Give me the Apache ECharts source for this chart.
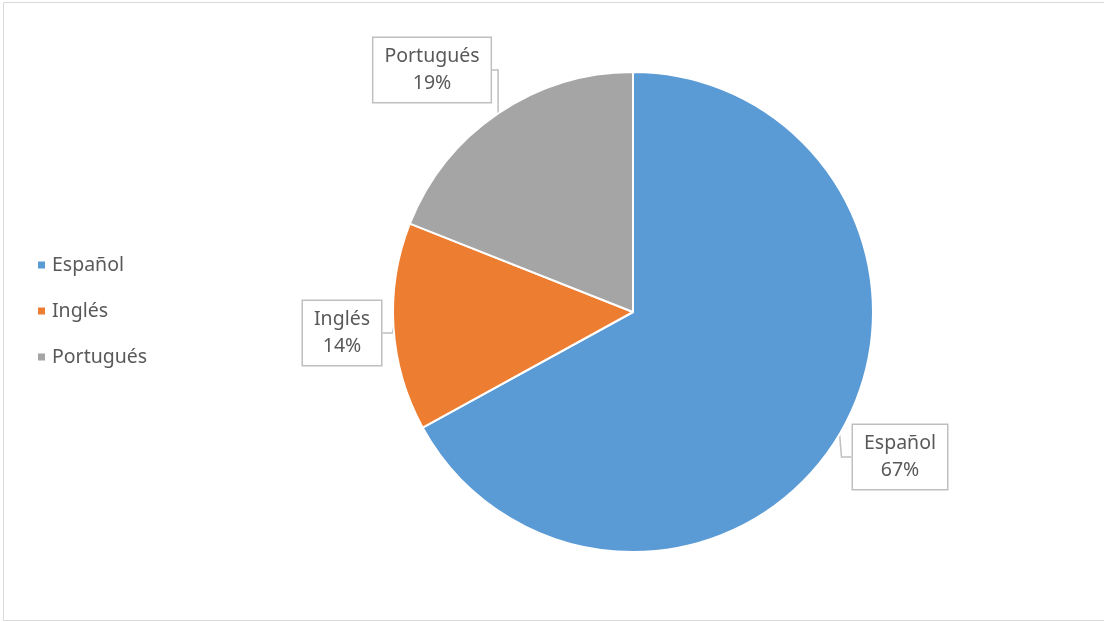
<!DOCTYPE html>
<html><head><meta charset="utf-8">
<script src="https://cdn.jsdelivr.net/npm/echarts@6/dist/echarts.min.js"></script>
<style>html,body{margin:0;padding:0;background:#fff}#c{width:1104px;height:622px}</style>
</head><body><div id="c"></div>
<script>
const categories = ['Español', 'Inglés', 'Portugués'];
const values = [67, 14, 19];
const colors = ['#5B9BD5', '#ED7D31', '#A5A5A5'];
const labelPos = [[900, 457], [342, 333], [432, 70]];

const chart = echarts.init(document.getElementById('c'));
const font = 'Noto Sans';
chart.setOption({
  animation: false,
  graphic: [{type: 'rect', shape: {x: 3.5, y: 2.5, width: 1110, height: 618}, style: {fill: 'none', stroke: '#d9d9d9', lineWidth: 1}, silent: true}],
  legend: {
    orient: 'vertical', left: 31, top: 'middle', itemGap: 26,
    itemWidth: 9, itemHeight: 9, icon: 'rect',
    textStyle: {fontFamily: font, fontSize: 19.5, color: '#595959', padding: [0, 0, 0, 1]},
    data: categories
  },
  series: [{
    type: 'pie', center: [633, 312], radius: [0, 240], startAngle: 90, clockwise: true,
    itemStyle: {borderColor: '#fff', borderWidth: 2},
    label: {
      show: true, position: 'outside', formatter: p => p.name + '\n' + p.value + '%',
      fontFamily: font, fontSize: 19.5, color: '#595959', lineHeight: 27, align: 'center',
      backgroundColor: '#fff', borderColor: '#bfbfbf', borderWidth: 1.5, padding: [5, 11, 5, 11]
    },
    labelLine: {show: true, length: 10, length2: 10, lineStyle: {color: '#bfbfbf', width: 1.5}},
    labelLayout: p => ({x: labelPos[p.dataIndex][0], y: labelPos[p.dataIndex][1], align: 'center', verticalAlign: 'middle'}),
    data: categories.map((c, i) => ({name: c, value: values[i], itemStyle: {color: colors[i]}}))
  }]
});
</script></body></html>
